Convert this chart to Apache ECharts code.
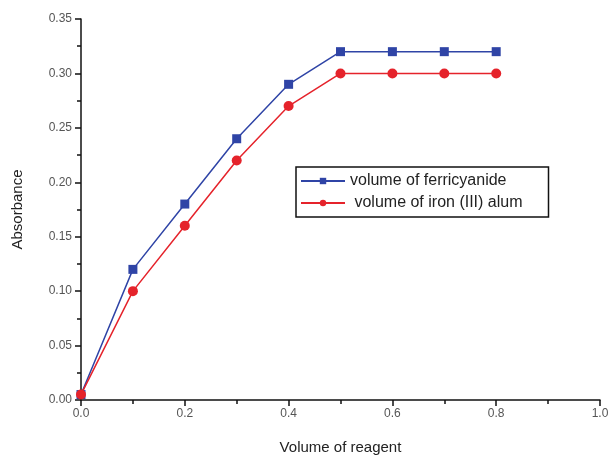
<!DOCTYPE html>
<html>
<head>
<meta charset="utf-8">
<script src="https://cdn.jsdelivr.net/npm/echarts@6/dist/echarts.min.js"></script>
<style>
  html, body { margin: 0; padding: 0; background: #fff; }
  #chart { width: 611px; height: 456px; }
</style>
</head>
<body>
<div id="chart"></div>
<script>
// volume of reagent (x)
const volumes = [0, 0.1, 0.2, 0.3, 0.4, 0.5, 0.6, 0.7, 0.8];
const ferricyanide = [0.005, 0.12, 0.18, 0.24, 0.29, 0.32, 0.32, 0.32, 0.32];
const ironAlum = [0.005, 0.10, 0.16, 0.22, 0.27, 0.30, 0.30, 0.30, 0.30];

const blue = '#2f44a6';
const red = '#e5232b';
const fontFam = '"Liberation Sans", Arial, sans-serif';

const chart = echarts.init(document.getElementById('chart'));

const axisCommon = {
  axisLine: { show: true, lineStyle: { color: '#111', width: 1.5 } },
  axisTick: { show: true, length: 6, lineStyle: { color: '#111', width: 1.5 } },
  minorTick: { show: true, splitNumber: 2, length: 4, lineStyle: { color: '#111', width: 1.5 } },
  splitLine: { show: false },
  axisLabel: { color: '#555', fontSize: 12, fontFamily: fontFam },
  nameTextStyle: { color: '#222', fontSize: 15, fontFamily: fontFam }
};

chart.setOption({
  animation: false,
  grid: { left: 81, right: 11, top: 19, bottom: 56, containLabel: false, outerBoundsMode: 'none' },
  legend: {
    orient: 'vertical',
    left: 296,
    top: 167,
    padding: [6, 26, 6, 4],
    itemGap: 6,
    itemWidth: 44,
    itemHeight: 8,
    borderColor: '#111',
    borderWidth: 1.5,
    textStyle: { color: '#222', fontSize: 16, fontFamily: fontFam },
    data: ['volume of ferricyanide', ' volume of iron (III) alum']
  },
  xAxis: Object.assign({}, axisCommon, {
    type: 'value',
    min: 0,
    max: 1,
    interval: 0.2,
    name: 'Volume of reagent',
    nameLocation: 'middle',
    nameGap: 40,
    axisLabel: Object.assign({}, axisCommon.axisLabel, {
      margin: 8,
      formatter: (v) => v.toFixed(1)
    })
  }),
  yAxis: Object.assign({}, axisCommon, {
    type: 'value',
    min: 0,
    max: 0.35,
    interval: 0.05,
    name: 'Absorbance',
    nameLocation: 'middle',
    nameGap: 56,
    axisLabel: Object.assign({}, axisCommon.axisLabel, {
      margin: 9,
      formatter: (v) => v.toFixed(2)
    })
  }),
  series: [
    {
      name: 'volume of ferricyanide',
      type: 'line',
      data: volumes.map((x, i) => [x, ferricyanide[i]]),
      symbol: 'rect',
      symbolSize: 9,
      itemStyle: { color: blue },
      lineStyle: { color: blue, width: 1.5 }
    },
    {
      name: ' volume of iron (III) alum',
      type: 'line',
      data: volumes.map((x, i) => [x, ironAlum[i]]),
      symbol: 'circle',
      symbolSize: 10,
      itemStyle: { color: red },
      lineStyle: { color: red, width: 1.5 }
    }
  ]
});
</script>
</body>
</html>
